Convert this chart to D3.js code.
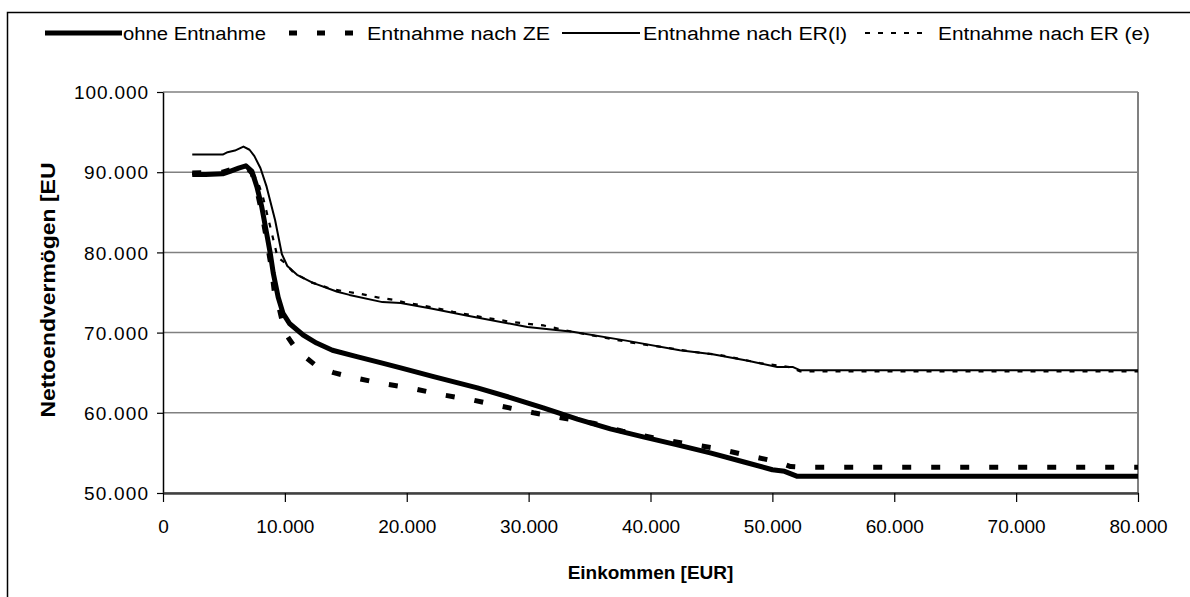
<!DOCTYPE html>
<html>
<head>
<meta charset="utf-8">
<script src="https://cdn.jsdelivr.net/npm/d3@7"></script>
<style>
  body { margin: 0; background: #fff; }
  text { font-family: "Liberation Sans", Arial, sans-serif; }
</style>
</head>
<body>
<div id="chart"></div>
<script>
// series names
const seriesNames = ["ohne Entnahme", "Entnahme nach ZE", "Entnahme nach ER(l)", "Entnahme nach ER (e)"]

// ohne Entnahme
const ohneIncome = [2400, 3500, 4900, 5500, 6200, 6800, 7300, 7700, 8100, 8500, 8800, 9050, 9450, 9850, 10400, 11500, 12600, 13900, 15900, 18000, 19500, 22200, 25800, 28500, 31200, 34000, 36700, 39400, 42200, 44900, 47600, 50000, 51000, 52000, 80000]
const ohneValue = [89700, 89700, 89800, 90100, 90500, 90800, 90100, 88200, 85700, 82400, 79900, 77400, 74400, 72400, 71100, 69700, 68700, 67800, 67000, 66200, 65600, 64500, 63100, 61900, 60600, 59200, 58000, 57000, 56000, 55000, 53900, 52900, 52700, 52100, 52100]

// Entnahme nach ZE
const zeIncome = [2400, 4900, 5500, 6200, 6800, 7300, 7700, 8100, 8500, 8900, 9200, 9450, 10000, 10800, 11800, 12700, 14000, 15300, 17800, 20300, 22700, 25400, 27800, 30400, 32800, 35300, 37700, 40200, 42700, 45300, 47900, 50400, 51500, 52500, 80000]
const zeValue = [89900, 90000, 90300, 90500, 90700, 89900, 87800, 85000, 81600, 78000, 74300, 73600, 70000, 68200, 66800, 65700, 65000, 64500, 63700, 63100, 62300, 61600, 60800, 60000, 59350, 58700, 57700, 56900, 56200, 55600, 54700, 53900, 53300, 53200, 53200]

// Entnahme nach ER(l)
const erlIncome = [2400, 4900, 5300, 5900, 6600, 7100, 7500, 8000, 8500, 9200, 9750, 10200, 11000, 12300, 14300, 15300, 18000, 19500, 22000, 25000, 29900, 33600, 38000, 42400, 45100, 48000, 50400, 51700, 52300, 80000]
const erlValue = [92200, 92200, 92500, 92700, 93200, 92800, 92000, 90500, 88200, 84000, 79800, 78300, 77200, 76200, 75100, 74700, 73800, 73700, 73000, 72100, 70700, 70100, 69000, 67800, 67300, 66500, 65700, 65700, 65300, 65300]

// Entnahme nach ER (e)
const ereIncome = [2400, 4900, 5500, 6200, 6800, 7300, 7800, 8200, 8800, 9400, 10000, 10700, 12100, 13900, 15100, 16300, 17600, 18900, 20000, 21300, 23800, 26300, 28700, 31200, 33600, 36100, 38600, 41000, 43500, 45700, 49000, 51400, 52300, 80000]
const ereValue = [89800, 89900, 90200, 90500, 90700, 90200, 88700, 86900, 83200, 79400, 78700, 77500, 76300, 75400, 75100, 74800, 74400, 74100, 73700, 73400, 72600, 71900, 71300, 70900, 70100, 69400, 68700, 68200, 67600, 67200, 66200, 65700, 65150, 65150]

// ticks
const xTicks = [0, 10000, 20000, 30000, 40000, 50000, 60000, 70000, 80000]
const yTicks = [50000, 60000, 70000, 80000, 90000, 100000]

const de = d3.formatLocale({decimal: ",", thousands: ".", grouping: [3], currency: ["", " €"]})
const fmt = de.format(",")

const svg = d3.select("#chart")
  .append("svg")
    .attr("width", 1190)
    .attr("height", 597)

// outer frame
svg.append("rect")
  .attr("x", 7.5).attr("y", 12.5)
  .attr("width", 1200).attr("height", 600)
  .attr("fill", "none").attr("stroke", "#000").attr("stroke-width", 1.5)

const plotLeft = 163, plotRight = 1138, plotTop = 92, plotBottom = 493

const x = d3.scaleLinear().domain([0, 80000]).range([plotLeft, plotRight])
const y = d3.scaleLinear().domain([50000, 100000]).range([plotBottom, plotTop])

// grid
svg.append("g")
  .selectAll("line")
  .data(yTicks)
  .join("line")
    .attr("x1", plotLeft).attr("x2", plotRight)
    .attr("y1", d => y(d)).attr("y2", d => y(d))
    .attr("stroke", "#808080").attr("stroke-width", 1.5)

// plot border right
svg.append("line")
  .attr("x1", plotRight).attr("x2", plotRight).attr("y1", plotTop).attr("y2", plotBottom)
  .attr("stroke", "#808080").attr("stroke-width", 2)

// axes
const yAxis = svg.append("g")
  .attr("transform", "translate(" + plotLeft + ",0)")
  .call(d3.axisLeft(y).tickValues(yTicks).tickFormat(fmt).tickSize(6).tickSizeOuter(0))
yAxis.select(".domain").attr("stroke", "#000").attr("stroke-width", 1.5)
yAxis.selectAll(".tick line").attr("stroke-width", 1.2)
yAxis.selectAll("text")
  .attr("font-size", "19px").attr("fill", "#000")
  .attr("x", -15).attr("dy", "0.35em")
  .attr("textLength", d => d == 100000 ? 74 : 64)

const xAxis = svg.append("g")
  .attr("transform", "translate(0," + plotBottom + ")")
  .call(d3.axisBottom(x).tickValues(xTicks).tickFormat(fmt).tickSize(9).tickSizeOuter(0))
xAxis.select(".domain").attr("stroke", "#404040").attr("stroke-width", 2.5)
xAxis.selectAll(".tick line").attr("stroke-width", 1.2)
xAxis.selectAll("text")
  .attr("font-size", "19px").attr("fill", "#000")
  .attr("y", 40).attr("dy", "0")

// axis titles
svg.append("text")
  .attr("x", (plotLeft + plotRight) / 2).attr("y", 579)
  .attr("text-anchor", "middle")
  .attr("font-size", "19px").attr("font-weight", "bold")
  .text("Einkommen [EUR]")

svg.append("text")
  .attr("transform", "translate(55,290)rotate(-90)")
  .attr("text-anchor", "middle")
  .attr("font-size", "20px").attr("font-weight", "bold")
  .attr("textLength", 255).attr("lengthAdjust", "spacingAndGlyphs")
  .text("Nettoendvermögen [EU")

// lines
const styles = [
  {width: 5, dash: null},
  {width: 5, dash: "9,20"},
  {width: 2, dash: null},
  {width: 2.2, dash: "5,8"}
]
const allSeries = [
  d3.zip(ohneIncome, ohneValue),
  d3.zip(zeIncome, zeValue),
  d3.zip(erlIncome, erlValue),
  d3.zip(ereIncome, ereValue)
]

const line = d3.line()
  .x(d => x(d[0]))
  .y(d => y(d[1]))

svg.append("g")
  .selectAll("path")
  .data(allSeries)
  .join("path")
    .attr("d", line)
    .attr("fill", "none")
    .attr("stroke", "#000")
    .attr("stroke-width", (d, i) => styles[i].width)
    .attr("stroke-dasharray", (d, i) => styles[i].dash)
    .attr("stroke-linejoin", "round")

// legend
const legendItems = [
  {x1: 45, x2: 122, tx: 123, tw: 143},
  {x1: 289, x2: 363, tx: 367, tw: 183},
  {x1: 562, x2: 640, tx: 643, tw: 204},
  {x1: 865, x2: 928, tx: 938, tw: 212}
]
const legend = svg.append("g")
legendItems.forEach((d, i) => {
  legend.append("line")
    .attr("x1", d.x1).attr("x2", d.x2).attr("y1", 33).attr("y2", 33)
    .attr("stroke", "#000")
    .attr("stroke-width", styles[i].width)
    .attr("stroke-dasharray", i == 1 ? "8,20" : styles[i].dash)
  legend.append("text")
    .attr("x", d.tx).attr("y", 40)
    .attr("font-size", "18px")
    .attr("textLength", d.tw).attr("lengthAdjust", "spacingAndGlyphs")
    .text(seriesNames[i])
})
</script>
</body>
</html>
